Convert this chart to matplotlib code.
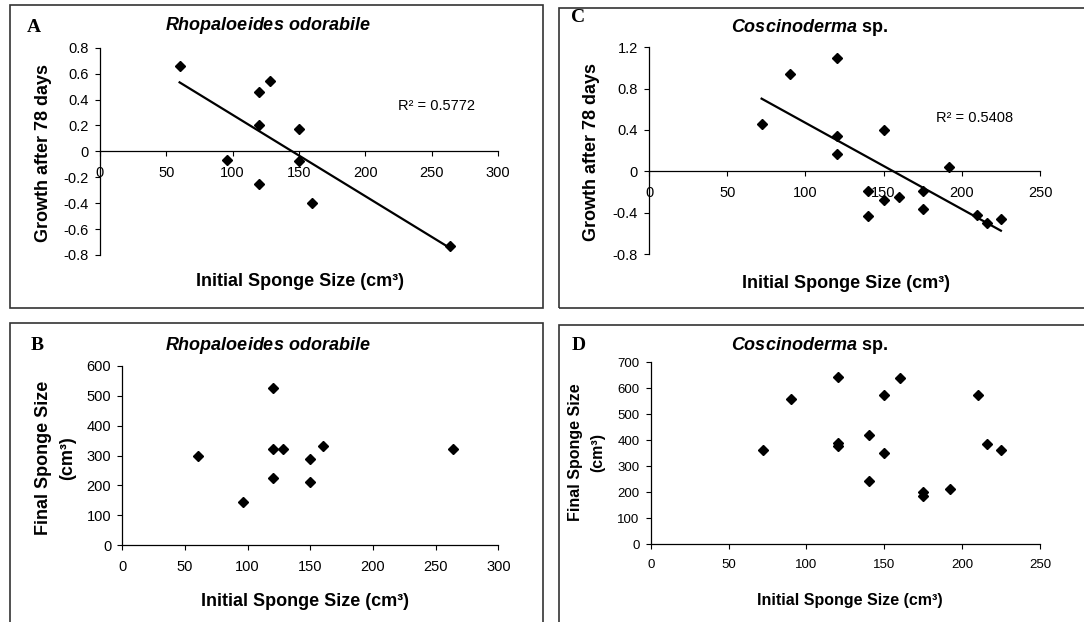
import numpy as np
import matplotlib
matplotlib.use("Agg")
import matplotlib.pyplot as plt
from matplotlib.patches import Rectangle

plt.rcParams['font.family'] = ['Liberation Sans', 'DejaVu Sans']
plt.rcParams['axes.unicode_minus'] = False
plt.rcParams['mathtext.fontset'] = 'custom'
plt.rcParams['mathtext.it'] = 'Liberation Sans:italic:bold'
plt.rcParams['mathtext.rm'] = 'Liberation Sans:bold'

# Rhopaloeides odorabile
a_initial = [60, 120, 128, 120, 150, 96, 150, 120, 160, 264]
a_growth = [0.66, 0.46, 0.54, 0.20, 0.17, -0.07, -0.075, -0.25, -0.40, -0.73]
b_initial = [60, 96, 120, 120, 128, 120, 150, 150, 160, 264]
b_final = [300, 145, 527, 322, 322, 226, 288, 211, 331, 322]

# Coscinoderma sp.
c_initial = [72, 90, 120, 120, 120, 150, 192, 140, 140, 150, 160, 175, 175, 210, 216, 225]
c_growth = [0.46, 0.94, 1.10, 0.34, 0.17, 0.40, 0.04, -0.19, -0.43, -0.28, -0.25,
            -0.19, -0.36, -0.42, -0.50, -0.46]
d_initial = [72, 90, 120, 120, 120, 140, 140, 150, 150, 160, 175, 175, 192, 210, 216, 225]
d_final = [362, 558, 645, 390, 378, 422, 242, 575, 351, 640, 203, 187, 213, 575, 385, 362]

a_ticks = [-0.8, -0.6, -0.4, -0.2, 0, 0.2, 0.4, 0.6, 0.8]
c_ticks = [-0.8, -0.4, 0, 0.4, 0.8, 1.2]

W, H = 1084, 622
fig = plt.figure(figsize=(W / 100, H / 100), dpi=100)


def fx(x):
    return x / W


def fy(y):
    return 1 - y / H


def make_axes(l, t, r, b):
    return fig.add_axes([fx(l), fy(b), (r - l) / W, (b - t) / H])


def style(ax, tsize):
    ax.spines['top'].set_visible(False)
    ax.spines['right'].set_visible(False)
    for s in ('left', 'bottom'):
        ax.spines[s].set_linewidth(0.9)
    ax.tick_params(direction='out', length=3.5, width=0.8, labelsize=tsize)
    ax.tick_params(axis='x', pad=7)
    ax.tick_params(axis='y', pad=4.5)


def fmt(v):
    return f"{v:g}"


def frame(l, t, r, b):
    fig.add_artist(Rectangle((fx(l), fy(b)), (r - l) / W, (b - t) / H,
                             transform=fig.transFigure, fill=False,
                             ec='#333333', lw=1.2))


frame(10, 5, 542.7, 308.3)
frame(559, 8.3, 1095, 308.3)
frame(10, 322.7, 542.7, 640)
frame(559, 325, 1095, 640)

dia = dict(marker='D', ms=5.0, color='black', linestyle='none')

# A
ax = make_axes(100, 47.7, 498, 255)
ax.plot(a_initial, a_growth, **dia)
k, m = np.polyfit(a_initial, a_growth, 1)
xs = np.array([min(a_initial), max(a_initial)])
ax.plot(xs, k * xs + m, color='black', lw=1.6)
ax.set_xlim(0, 300)
ax.set_ylim(-0.8, 0.8)
ax.set_yticks(a_ticks)
ax.set_yticklabels([fmt(v) for v in a_ticks])
ax.set_xticks(range(0, 301, 50))
ax.spines['bottom'].set_position(('data', 0))
style(ax, 10.5)

# B
ax = make_axes(122.3, 365.7, 498.3, 545.3)
ax.plot(b_initial, b_final, **dia)
ax.set_xlim(0, 300)
ax.set_ylim(0, 600)
ax.set_xticks(range(0, 301, 50))
ax.set_yticks(range(0, 601, 100))
style(ax, 10.5)

# C
ax = make_axes(649, 47.3, 1040, 254)
ax.plot(c_initial, c_growth, **dia)
k, m = np.polyfit(c_initial, c_growth, 1)
xs = np.array([min(c_initial), max(c_initial)])
ax.plot(xs, k * xs + m, color='black', lw=1.6)
ax.set_xlim(0, 250)
ax.set_ylim(-0.8, 1.2)
ax.set_yticks(c_ticks)
ax.set_yticklabels([fmt(v) for v in c_ticks])
ax.set_xticks(range(0, 251, 50))
ax.spines['bottom'].set_position(('data', 0))
style(ax, 10.5)

# D
ax = make_axes(650.7, 362.3, 1040, 544.3)
ax.plot(d_initial, d_final, **dia)
ax.set_xlim(0, 250)
ax.set_ylim(0, 700)
ax.set_xticks(range(0, 251, 50))
ax.set_yticks(range(0, 701, 100))
style(ax, 9.5)

# texts
rho = r"$\mathit{Rhopaloeides\ odorabile}$"
cos = r"$\mathit{Coscinoderma}$ sp."
xlab = "Initial Sponge Size (cm³)"

fig.text(fx(268), fy(26), rho, ha='center', va='center', size=13, weight='bold')
fig.text(fx(268), fy(345), rho, ha='center', va='center', size=13, weight='bold')
fig.text(fx(809), fy(27), cos, ha='center', va='center', size=13, weight='bold')
fig.text(fx(809), fy(346), cos, ha='center', va='center', size=13, weight='bold')

for letter, x, y in [('A', 34, 28), ('C', 578, 18), ('B', 37, 346), ('D', 579, 346)]:
    fig.text(fx(x), fy(y), letter, ha='center', va='center', size=14,
             weight='bold', family='Liberation Serif')

fig.text(fx(300), fy(281), xlab, ha='center', va='center', size=13, weight='bold')
fig.text(fx(846), fy(284), xlab, ha='center', va='center', size=13, weight='bold')
fig.text(fx(305), fy(601), xlab, ha='center', va='center', size=13, weight='bold')
fig.text(fx(850), fy(601), xlab, ha='center', va='center', size=11.5, weight='bold')

fig.text(fx(44), fy(153), "Growth after 78 days", ha='center', va='center',
         rotation=90, size=13, weight='bold')
fig.text(fx(592), fy(152), "Growth after 78 days", ha='center', va='center',
         rotation=90, size=13, weight='bold')
fig.text(fx(55.5), fy(458), "Final Sponge Size\n(cm³)", ha='center', va='center',
         rotation=90, size=13, weight='bold', linespacing=1.55)
fig.text(fx(587), fy(452), "Final Sponge Size\n(cm³)", ha='center', va='center',
         rotation=90, size=11.5, weight='bold', linespacing=1.6)

fig.text(fx(436), fy(106), "R² = 0.5772", ha='center', va='center', size=10.5)
fig.text(fx(975), fy(118), "R² = 0.5408", ha='center', va='center', size=10.5)

fig.savefig("out.png", dpi=100)
